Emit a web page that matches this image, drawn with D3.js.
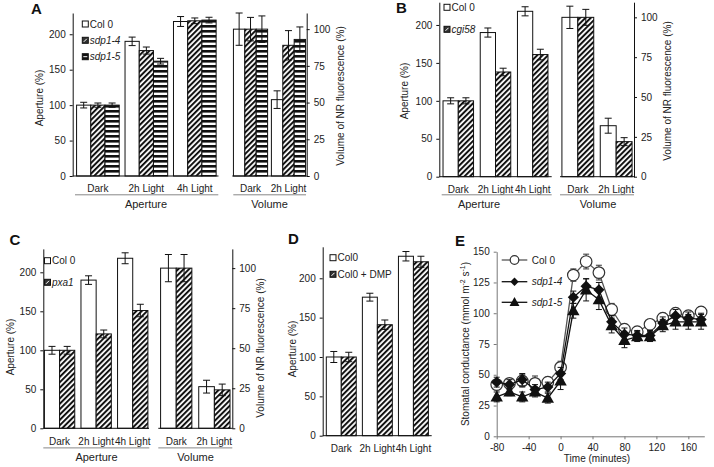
<!DOCTYPE html>
<html><head><meta charset="utf-8">
<script src="https://cdn.jsdelivr.net/npm/d3@7"></script>
<style>body{margin:0;background:#fff}svg{display:block}text{font-family:'Liberation Sans',Arial,Helvetica,sans-serif}</style>
</head><body><svg id="c" width="714" height="467"></svg>
<script>
// ---------------- DATA ----------------
const apertureCats = ["Dark", "2h Light", "4h Light"];
const volumeCats = ["Dark", "2h Light"];

// Panel A
const aSeries = ["Col 0", "sdp1-4", "sdp1-5"];
const aApCol0 = [100, 190, 218], aApCol0Err = [4, 6, 7];
const aApSdp14 = [100, 177, 219], aApSdp14Err = [3, 5, 4];
const aApSdp15 = [100, 162, 220], aApSdp15Err = [3, 4, 4];
const aVolCol0 = [100, 52], aVolCol0Err = [11, 6];
const aVolSdp14 = [100, 89], aVolSdp14Err = [8, 10];
const aVolSdp15 = [100, 93], aVolSdp15Err = [9, 8.5];

// Panel B
const bSeries = ["Col 0", "cgi58"];
const bApCol0 = [100, 190, 218], bApCol0Err = [4, 6, 6];
const bApCgi58 = [100, 138, 161], bApCgi58Err = [4, 5, 7];
const bVolCol0 = [100, 32], bVolCol0Err = [7, 4.7];
const bVolCgi58 = [100, 22], bVolCgi58Err = [5, 2.5];

// Panel C
const cSeries = ["Col 0", "pxa1"];
const cApCol0 = [100, 190, 218], cApCol0Err = [5, 5.5, 7];
const cApPxa1 = [100, 121, 151], cApPxa1Err = [5, 5, 8];
const cVolCol0 = [100, 26], cVolCol0Err = [8.5, 4];
const cVolPxa1 = [100, 24], cVolPxa1Err = [8.5, 3.6];

// Panel D
const dSeries = ["Col0", "Col0 + DMP"];
const dApCol0 = [100, 176, 228], dApCol0Err = [7, 5, 6];
const dApDmp = [100, 141, 221], dApDmpErr = [6, 6, 7];

// Panel E
const eSeries = ["Col 0", "sdp1-4", "sdp1-5"];
const eTime = [-80, -64, -48, -32, -16, 0, 16, 32, 48, 64, 80, 96, 112, 128, 144, 160, 176];
const eCol0 = [42, 43, 45, 43, 44, 56, 131, 142, 133, 103, 87, 85, 91, 96, 100, 98, 101];
const eCol0Err = [4, 4, 5, 6, 4, 5, 5, 6, 6, 5, 4, 4, 4, 4, 4, 4, 4];
const eSdp14 = [44, 42, 46, 38, 40, 51, 113, 122, 119, 93, 83, 82, 82, 92, 98, 96, 95];
const eSdp14Err = [4, 4, 5, 4, 4, 5, 5, 6, 6, 5, 5, 4, 4, 5, 5, 5, 5];
const eSdp15 = [32, 36, 32, 36, 31, 45, 102, 119, 111, 90, 78, 81, 81, 90, 93, 93, 93];
const eSdp15Err = [4, 3, 4, 4, 4, 7, 6, 9, 8, 6, 6, 4, 4, 5, 6, 6, 6];

const apTicks = [0, 50, 100, 150, 200];
const volTicks = [0, 25, 50, 75, 100];
const eYTicks = [0, 25, 50, 75, 100, 125, 150];
const eXTicks = [-80, -40, 0, 40, 80, 120, 160];

// ---------------- DRAWING ----------------
const FONT = "'Liberation Sans', Arial, Helvetica, sans-serif";
const INK = "#111";
const svg = d3.select("#c");
const defs = svg.append("defs");

const diag = defs.append("pattern").attr("id", "diag").attr("patternUnits", "userSpaceOnUse")
  .attr("width", 3.8).attr("height", 3.8).attr("patternTransform", "rotate(45)");
diag.append("rect").attr("width", 3.8).attr("height", 3.8).attr("fill", "#fff");
diag.append("rect").attr("width", 2).attr("height", 3.8).attr("fill", INK);

const horiz = defs.append("pattern").attr("id", "horiz").attr("patternUnits", "userSpaceOnUse")
  .attr("width", 5).attr("height", 5);
horiz.append("rect").attr("width", 5).attr("height", 5).attr("fill", "#fff");
horiz.append("rect").attr("width", 5).attr("height", 2.6).attr("fill", INK);

const FILLS = ["#fff", "url(#diag)", "url(#horiz)"];
const fmt = d => String(d);

function styleAxis(a, color) {
  a.attr("font-family", FONT);
  a.select(".domain").attr("stroke", color || INK);
  a.selectAll(".tick line").attr("stroke", color || INK);
  a.selectAll(".tick text").attr("font-size", 10).attr("fill", "#222");
}
function axisLeft(x, y, ticks) {
  const a = svg.append("g").attr("transform", `translate(${x},0)`)
    .call(d3.axisLeft(y).tickValues(ticks).tickFormat(fmt).tickSize(3).tickSizeOuter(0).tickPadding(4));
  styleAxis(a);
}
function axisRight(x, y, ticks) {
  const a = svg.append("g").attr("transform", `translate(${x},0)`)
    .call(d3.axisRight(y).tickValues(ticks).tickFormat(fmt).tickSize(3).tickSizeOuter(0).tickPadding(4));
  styleAxis(a);
}
function vTitle(cx, cy, txt) {
  return svg.append("text").attr("transform", `translate(${cx},${cy}) rotate(-90)`)
    .attr("dy", "0.35em").attr("text-anchor", "middle").attr("font-size", 10).attr("fill", "#222").text(txt);
}
function letter(x, y, t) {
  svg.append("text").attr("x", x).attr("y", y).attr("font-size", 15).attr("font-weight", "bold")
    .attr("fill", INK).text(t);
}
function barGroup(cfg) {
  const g = svg.append("g");
  const xb = d3.scaleBand().domain(cfg.cats).range(cfg.range).paddingInner(cfg.pi).paddingOuter(cfg.po);
  const xs = d3.scaleBand().domain(d3.range(cfg.series.length)).range([0, xb.bandwidth()]);
  const y = cfg.y;
  const rows = cfg.series.map((s, i) => s.values.map((v, j) => ({ v, e: s.errs[j], i, cat: cfg.cats[j], fill: FILLS[i] })));
  rows.forEach(r => {
    g.append("g").selectAll("rect").data(r).join("rect")
      .attr("x", d => xb(d.cat) + xs(d.i)).attr("y", d => y(d.v))
      .attr("width", xs.bandwidth()).attr("height", d => y(0) - y(d.v))
      .attr("fill", d => d.fill).attr("stroke", INK).attr("stroke-width", 1);
  });
  const all = rows.flat();
  const eg = g.append("g").attr("stroke", INK).attr("stroke-width", 1);
  const cx = d => xb(d.cat) + xs(d.i) + xs.bandwidth() / 2;
  eg.selectAll("line.v").data(all).join("line").attr("class", "v")
    .attr("x1", cx).attr("x2", cx).attr("y1", d => y(d.v + d.e)).attr("y2", d => y(d.v - d.e));
  eg.selectAll("line.t").data(all).join("line").attr("class", "t")
    .attr("x1", d => cx(d) - 3.5).attr("x2", d => cx(d) + 3.5).attr("y1", d => y(d.v + d.e)).attr("y2", d => y(d.v + d.e));
  eg.selectAll("line.b").data(all).join("line").attr("class", "b")
    .attr("x1", d => cx(d) - 3.5).attr("x2", d => cx(d) + 3.5).attr("y1", d => y(d.v - d.e)).attr("y2", d => y(d.v - d.e));
  g.append("line").attr("x1", cfg.base[0]).attr("x2", cfg.base[1]).attr("y1", y(0)).attr("y2", y(0))
    .attr("stroke", INK).attr("stroke-width", 1);
  g.selectAll("text.cat").data(cfg.cats).join("text").attr("class", "cat")
    .attr("x", d => xb(d) + xb.bandwidth() / 2).attr("y", cfg.catY)
    .attr("text-anchor", "middle").attr("font-size", 10).attr("fill", "#222").text(d => d);
  if (cfg.under) {
    g.append("line").attr("x1", cfg.under.x0).attr("x2", cfg.under.x1).attr("y1", cfg.under.y).attr("y2", cfg.under.y)
      .attr("stroke", "#888").attr("stroke-width", 1);
    g.append("text").attr("x", cfg.under.tx).attr("y", cfg.under.ty).attr("text-anchor", "middle")
      .attr("font-size", 11).attr("fill", "#222").text(cfg.under.title);
  }
}
function barLegend(x, ys, names, italic) {
  const g = svg.append("g");
  const items = names.map((n, i) => ({ n, i, y: ys[i] }));
  g.selectAll("rect").data(items).join("rect")
    .attr("x", x).attr("y", d => d.y - 3).attr("width", 6).attr("height", 6)
    .attr("fill", d => d.i === 0 ? "#fff" : (d.i === 1 ? "#333" : INK)).attr("stroke", INK).attr("stroke-width", 1);
  g.selectAll("line").data(items.filter(d => d.i > 0)).join("line")
    .attr("x1", d => d.i === 1 ? x + 1.5 : x + 1).attr("x2", d => d.i === 1 ? x + 4.5 : x + 5)
    .attr("y1", d => d.i === 1 ? d.y + 1.5 : d.y).attr("y2", d => d.i === 1 ? d.y - 1.5 : d.y)
    .attr("stroke", "#fff").attr("stroke-width", 1);
  g.selectAll("text").data(items).join("text")
    .attr("x", x + 7.5).attr("y", d => d.y).attr("dy", "0.35em").attr("font-size", 10).attr("fill", "#222")
    .attr("font-style", d => (italic && d.i > 0) ? "italic" : "normal").text(d => d.n);
}

// ===== Panel A =====
{
  const yL = d3.scaleLinear().domain([0, 230]).range([176, 13]);
  const yR = d3.scaleLinear().domain([0, 111]).range([176, 13]);
  barGroup({ cats: apertureCats, range: [72.7, 220], pi: 0.12, po: 0.08, y: yL, base: [72.7, 218.5], catY: 192.3,
    series: [{ values: aApCol0, errs: aApCol0Err }, { values: aApSdp14, errs: aApSdp14Err }, { values: aApSdp15, errs: aApSdp15Err }],
    under: { x0: 75, x1: 218.3, y: 194.8, title: "Aperture", tx: 146, ty: 208 } });
  barGroup({ cats: volumeCats, range: [232.3, 306.7], pi: 0.1, po: 0.03, y: yR, base: [232.3, 306.7], catY: 192.3,
    series: [{ values: aVolCol0, errs: aVolCol0Err }, { values: aVolSdp14, errs: aVolSdp14Err }, { values: aVolSdp15, errs: aVolSdp15Err }],
    under: { x0: 233.3, x1: 306, y: 194.8, title: "Volume", tx: 269.5, ty: 208 } });
  axisLeft(72.7, yL, apTicks);
  axisRight(306.7, yR, volTicks);
  vTitle(39.5, 98, "Aperture (%)");
  vTitle(340, 96, "Volume of NR fluorescence (%)");
  letter(31, 13.5, "A");
  barLegend(82.3, [24, 40.3, 56.7], aSeries, true);
}
// ===== Panel B =====
{
  const yL = d3.scaleLinear().domain([0, 230]).range([176.7, 2.2]);
  const yR = d3.scaleLinear().domain([0, 109.5]).range([176.7, 2.2]);
  barGroup({ cats: apertureCats, range: [439.3, 551.7], pi: 0.18, po: 0.1, y: yL, base: [439.3, 551.7], catY: 192.9,
    series: [{ values: bApCol0, errs: bApCol0Err }, { values: bApCgi58, errs: bApCgi58Err }],
    under: { x0: 441.7, x1: 551.7, y: 194.8, title: "Aperture", tx: 479, ty: 208 } });
  barGroup({ cats: volumeCats, range: [560, 634], pi: 0.17, po: 0.05, y: yR, base: [560, 634], catY: 192.9,
    series: [{ values: bVolCol0, errs: bVolCol0Err }, { values: bVolCgi58, errs: bVolCgi58Err }],
    under: { x0: 560, x1: 634, y: 194.8, title: "Volume", tx: 598, ty: 208 } });
  axisLeft(439.3, yL, apTicks);
  axisRight(634, yR, volTicks);
  vTitle(404.2, 91, "Aperture (%)");
  vTitle(667.5, 91, "Volume of NR fluorescence (%)");
  letter(396, 13, "B");
  barLegend(444, [7.3, 29.3], bSeries, true);
}
// ===== Panel C =====
{
  const yL = d3.scaleLinear().domain([0, 230]).range([428.3, 248.9]);
  const yR = d3.scaleLinear().domain([0, 112]).range([428.3, 248.9]);
  barGroup({ cats: apertureCats, range: [43.3, 149], pi: 0.17, po: 0.03, y: yL, base: [43.3, 149], catY: 444.6,
    series: [{ values: cApCol0, errs: cApCol0Err }, { values: cApPxa1, errs: cApPxa1Err }],
    under: { x0: 43.3, x1: 149.3, y: 447.9, title: "Aperture", tx: 96.5, ty: 460.6 } });
  barGroup({ cats: volumeCats, range: [158.3, 232.3], pi: 0.18, po: 0.06, y: yR, base: [158.3, 232.3], catY: 444.6,
    series: [{ values: cVolCol0, errs: cVolCol0Err }, { values: cVolPxa1, errs: cVolPxa1Err }],
    under: { x0: 158.3, x1: 232.3, y: 447.9, title: "Volume", tx: 195.5, ty: 460.6 } });
  axisLeft(43.3, yL, apTicks);
  axisRight(232.3, yR, volTicks);
  vTitle(10.3, 347, "Aperture (%)");
  vTitle(260.8, 348, "Volume of NR fluorescence (%)");
  letter(9.5, 244.5, "C");
  barLegend(44.5, [260.7, 282.3], cSeries, true);
}
// ===== Panel D =====
{
  const yL = d3.scaleLinear().domain([0, 240]).range([435.7, 246.8]);
  barGroup({ cats: apertureCats, range: [322.7, 432], pi: 0.17, po: 0.1, y: yL, base: [322.7, 431.7], catY: 451.9,
    series: [{ values: dApCol0, errs: dApCol0Err }, { values: dApDmp, errs: dApDmpErr }] });
  axisLeft(322.7, yL, apTicks);
  vTitle(292.5, 349, "Aperture (%)");
  letter(288, 243.5, "D");
  barLegend(330, [257.7, 274.3], dSeries, false);
}
// ===== Panel E =====
{
  const x = d3.scaleLinear().domain([-80, 180]).range([496.7, 704.3]);
  const y = d3.scaleLinear().domain([0, 150]).range([436.3, 251.7]);
  const AX = "#777";
  const ay = svg.append("g").attr("transform", `translate(${x(-80)},0)`)
    .call(d3.axisLeft(y).tickValues(eYTicks).tickFormat(fmt).tickSize(3).tickSizeOuter(0).tickPadding(4));
  styleAxis(ay, AX);
  const ax = svg.append("g").attr("transform", `translate(0,${y(0)})`)
    .call(d3.axisBottom(x).tickValues(eXTicks).tickFormat(fmt).tickSize(3).tickSizeOuter(0).tickPadding(5));
  styleAxis(ax, AX);
  svg.append("text").attr("x", 597).attr("y", 462).attr("text-anchor", "middle").attr("font-size", 10)
    .attr("fill", "#222").text("Time (minutes)");
  const t = svg.append("text").attr("transform", `translate(465.3,344) rotate(-90)`).attr("dy", "0.35em")
    .attr("text-anchor", "middle").attr("font-size", 10).attr("fill", "#222");
  t.append("tspan").text("Stomatal conductance (mmol m");
  t.append("tspan").attr("dy", -4).attr("font-size", 7).text("-2");
  t.append("tspan").attr("dy", 4).text(" s");
  t.append("tspan").attr("dy", -4).attr("font-size", 7).text("-1");
  t.append("tspan").attr("dy", 4).text(")");
  letter(455, 245.5, "E");

  const diamond = "M0,-5.6L5.6,0L0,5.6L-5.6,0Z";
  const triangle = "M0,-6.5L6.2,4.6L-6.2,4.6Z";
  const series = [
    { vals: eCol0, errs: eCol0Err, line: "#555", kind: "circle" },
    { vals: eSdp14, errs: eSdp14Err, line: INK, kind: "diamond" },
    { vals: eSdp15, errs: eSdp15Err, line: INK, kind: "triangle" }
  ];
  const line = d3.line().x(d => x(d.t)).y(d => y(d.v));
  series.forEach(s => {
    const pts = eTime.map((tt, i) => ({ t: tt, v: s.vals[i], e: s.errs[i] }));
    const g = svg.append("g");
    const eg = g.append("g").attr("stroke", s.kind === "circle" ? "#333" : INK).attr("stroke-width", 1);
    eg.selectAll("line.v").data(pts).join("line").attr("class", "v")
      .attr("x1", d => x(d.t)).attr("x2", d => x(d.t)).attr("y1", d => y(d.v + d.e)).attr("y2", d => y(d.v - d.e));
    eg.selectAll("line.t").data(pts).join("line").attr("class", "t")
      .attr("x1", d => x(d.t) - 3).attr("x2", d => x(d.t) + 3).attr("y1", d => y(d.v + d.e)).attr("y2", d => y(d.v + d.e));
    eg.selectAll("line.b").data(pts).join("line").attr("class", "b")
      .attr("x1", d => x(d.t) - 3).attr("x2", d => x(d.t) + 3).attr("y1", d => y(d.v - d.e)).attr("y2", d => y(d.v - d.e));
    g.append("path").datum(pts).attr("d", line).attr("fill", "none").attr("stroke", s.line).attr("stroke-width", 1.3);
    if (s.kind === "circle") {
      g.selectAll("circle").data(pts).join("circle").attr("cx", d => x(d.t)).attr("cy", d => y(d.v)).attr("r", 5.8)
        .attr("fill", "#fff").attr("stroke", "#333").attr("stroke-width", 1.2);
    } else {
      g.selectAll("path.m").data(pts).join("path").attr("class", "m")
        .attr("transform", d => `translate(${x(d.t)},${y(d.v)})`)
        .attr("d", s.kind === "diamond" ? diamond : triangle).attr("fill", INK);
    }
  });
  // legend
  const leg = svg.append("g");
  const legItems = eSeries.map((n, i) => ({ n, i, y: [260, 281.7, 302.3][i] }));
  leg.selectAll("line").data(legItems).join("line").attr("x1", 501.7).attr("x2", 527.3)
    .attr("y1", d => d.y).attr("y2", d => d.y).attr("stroke", d => d.i === 0 ? "#555" : INK).attr("stroke-width", 1.3);
  legItems.forEach(d => {
    if (d.i === 0) leg.append("circle").attr("cx", 514.5).attr("cy", d.y).attr("r", 4.3).attr("fill", "#fff").attr("stroke", "#333").attr("stroke-width", 1.2);
    else leg.append("path").attr("transform", `translate(514.5,${d.y}) scale(${d.i === 1 ? 0.75 : 0.8})`).attr("d", d.i === 1 ? diamond : triangle).attr("fill", INK);
  });
  leg.selectAll("text").data(legItems).join("text").attr("x", 531.7).attr("y", d => d.y).attr("dy", "0.35em")
    .attr("font-size", 10).attr("fill", "#222").attr("font-style", d => d.i > 0 ? "italic" : "normal").text(d => d.n);
}
</script>
</body></html>
